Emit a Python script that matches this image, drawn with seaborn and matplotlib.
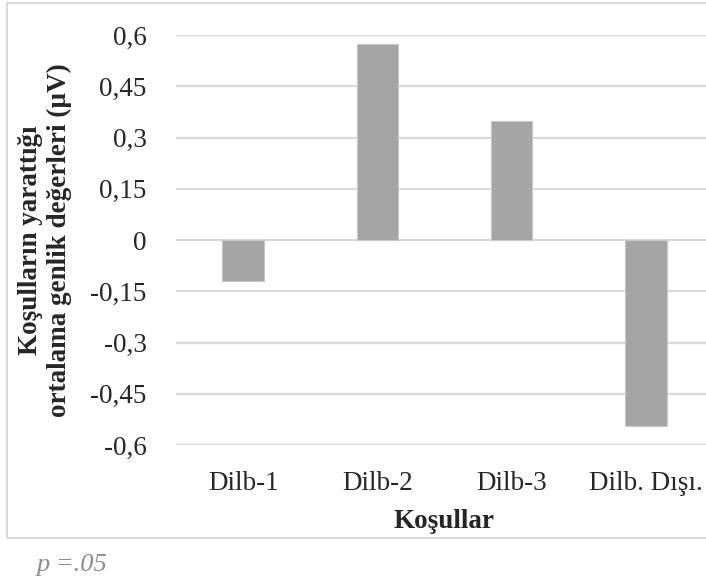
import pandas as pd
import matplotlib.pyplot as plt
import seaborn as sns
from matplotlib.patches import Rectangle

# Data
kosullar = ['Dilb-1', 'Dilb-2', 'Dilb-3', 'Dilb. Dışı.']
genlik = [-0.12, 0.573, 0.347, -0.544]
y_ticks = [-0.6, -0.45, -0.3, -0.15, 0, 0.15, 0.3, 0.45, 0.6]
y_tick_labels = ['-0,6', '-0,45', '-0,3', '-0,15', '0', '0,15', '0,3', '0,45', '0,6']

df = pd.DataFrame({'Koşullar': kosullar, 'Genlik': genlik})

sns.set_style('white')
plt.rcParams['font.family'] = ['Liberation Serif', 'DejaVu Serif']

W, H = 706, 585
fig = plt.figure(figsize=(W / 100, H / 100), dpi=100)

# outer chart frame (right side is cut off in the original)
fig.patches.append(Rectangle((7 / W, 1 - 538 / H), 760 / W, (538 - 3) / H,
                             transform=fig.transFigure, fill=False,
                             edgecolor='#D9D9D9', linewidth=1.5))

ax = fig.add_axes([176 / W, 1 - 445 / H, 537 / W, 410 / H])
sns.barplot(data=df, x='Koşullar', y='Genlik', color='#A5A5A5', width=0.31,
            edgecolor='#C8C8C8', linewidth=0.8, saturation=1, ax=ax, zorder=3)

ax.set_ylim(-0.6, 0.6)
ax.set_xlim(-0.5, 3.5)
ax.set_yticks(y_ticks)
ax.set_yticklabels(y_tick_labels)
ax.yaxis.grid(True, color='#D9D9D9', linewidth=1.6, zorder=0)
ax.set_axisbelow(True)
for s in ax.spines.values():
    s.set_visible(False)
ax.tick_params(axis='y', length=0, pad=21, labelsize=19.5)
ax.tick_params(axis='x', length=0, pad=19, labelsize=19.5)
ax.set_xlabel('')
ax.set_ylabel('')

fig.text(45 / W, 1 - 240 / H, 'Koşulların yarattığı\nortalama genlik değerleri (µV)',
         rotation=90, ha='center', va='center', fontsize=19.5, fontweight='bold',
         linespacing=1.2)
fig.text(444 / W, 1 - 521 / H, 'Koşullar', ha='center', va='center',
         fontsize=19.5, fontweight='bold')
fig.text(37 / W, 1 - 565 / H, 'p =.05', ha='left', va='center', fontsize=19,
         style='italic', color='#8C8C8C')

fig.savefig('out.png', dpi=100)
